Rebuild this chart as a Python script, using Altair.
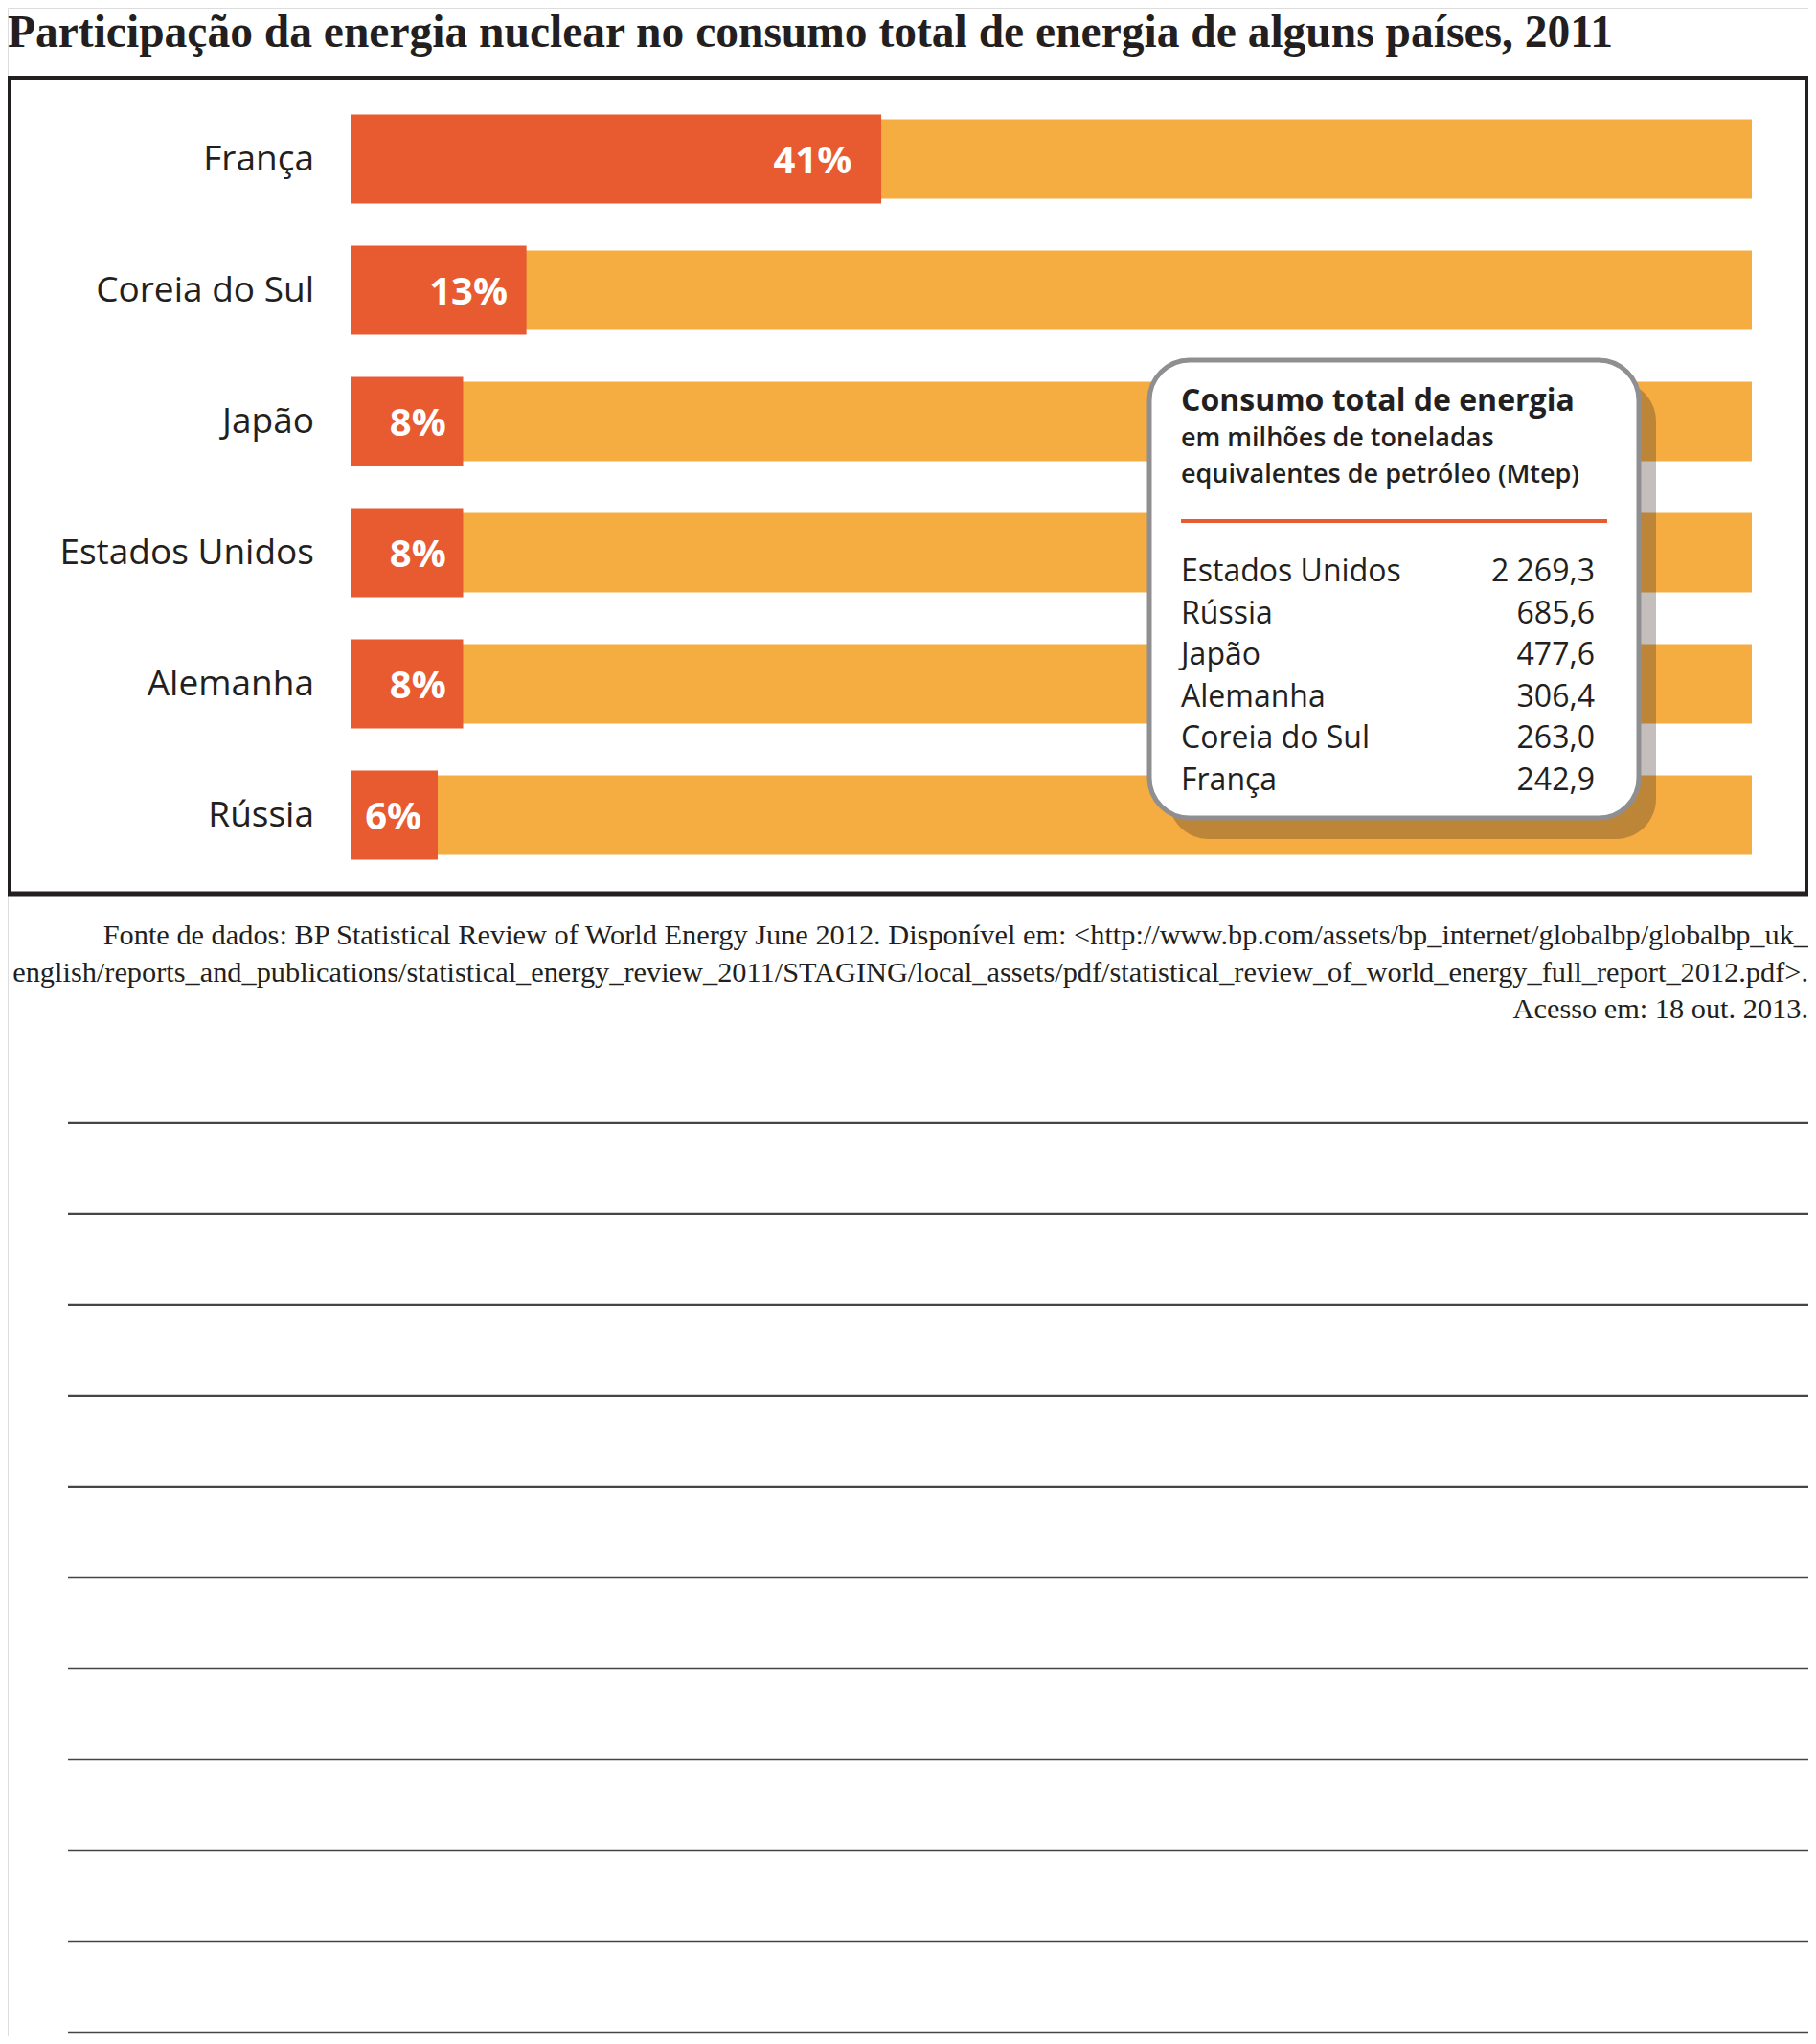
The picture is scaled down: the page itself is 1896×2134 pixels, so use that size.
import altair as alt
import pandas as pd

# ---------------- data ----------------
paises = ["França", "Coreia do Sul", "Japão", "Estados Unidos", "Alemanha", "Rússia"]
participacao = [41, 13, 8, 8, 8, 6]

tabela_paises = ["Estados Unidos", "Rússia", "Japão", "Alemanha", "Coreia do Sul", "França"]
tabela_mtep = [2269.3, 685.6, 477.6, 306.4, 263.0, 242.9]

titulo = "Participação da energia nuclear no consumo total de energia de alguns países, 2011"
quadro_titulo = "Consumo total de energia"
quadro_sub = ["em milhões de toneladas", "equivalentes de petróleo (Mtep)"]
fonte_linhas = [
    "Fonte de dados: BP Statistical Review of World Energy June 2012. Disponível em: <http://www.bp.com/assets/bp_internet/globalbp/globalbp_uk_",
    "english/reports_and_publications/statistical_energy_review_2011/STAGING/local_assets/pdf/statistical_review_of_world_energy_full_report_2012.pdf>.",
    "Acesso em: 18 out. 2013.",
]
linhas_escrita = list(range(11))

# ---------------- style ----------------
SANS = "Open Sans"
SERIF = "Liberation Serif"
PRETO = "#231f20"
VERMELHO = "#e85a2f"
LARANJA = "#f5ad42"
CINZA_BORDA = "#8f8f91"
DMIN, DMAX = -0.88, 109.7   # the drawn boxes carry a small fixed padding at their start
W, H = 1880, 2118


def fmt_br(v):
    return f"{v:,.1f}".replace(",", " ").replace(".", ",")


df = pd.DataFrame({
    "pais": paises,
    "pct": participacao,
    "rotulo": [f"{v}%" for v in participacao],
})
df["inicio"] = DMIN
df["fim"] = DMAX
df["pos"] = df["pct"] * 0.97 - 1.1

df_tab = pd.DataFrame({"pais_tab": tabela_paises, "valor": [fmt_br(v) for v in tabela_mtep]})
df_fonte = pd.DataFrame({"linha": list(range(len(fonte_linhas))), "texto": fonte_linhas})
df_linhas = pd.DataFrame({"k": linhas_escrita})
um = pd.DataFrame({"k": [0]})

xs = alt.Scale(domain=[DMIN, DMAX], range=[358, 1821])
ys = alt.Scale(domain=paises, range=[89.5, 911.5], paddingInner=0, paddingOuter=0)

X0 = alt.X("inicio:Q", scale=xs, axis=None)
Yp = alt.Y("pais:N", scale=ys, axis=None)

titulo_l = alt.Chart(um).mark_text(
    align="left", baseline="alphabetic", font=SERIF, fontSize=47.5, fontWeight="bold", color=PRETO
).encode(x=alt.value(0), y=alt.value(41), text=alt.value(titulo))

moldura = alt.Chart(um).mark_rect(
    fill="white", fillOpacity=0, stroke=PRETO, strokeWidth=5
).encode(x=alt.value(1), x2=alt.value(1879), y=alt.value(73.5), y2=alt.value(925))

fundo = alt.Chart(df).mark_bar(color=LARANJA, size=83).encode(x=X0, x2="fim:Q", y=Yp)
nuclear = alt.Chart(df).mark_bar(color=VERMELHO, size=93).encode(x=X0, x2="pct:Q", y=Yp)

nomes = alt.Chart(df).mark_text(
    align="right", baseline="middle", dx=-38, dy=1, font=SANS, fontSize=37, color=PRETO
).encode(x=X0, y=Yp, text="pais:N")

pcts = alt.Chart(df).mark_text(
    align="right", baseline="middle", dy=3, font=SANS, fontSize=40, fontWeight="bold", color="white"
).encode(x=alt.X("pos:Q", scale=xs, axis=None), y=Yp, text="rotulo:N")

sombra = alt.Chart(um).mark_rect(cornerRadius=42, fill="#3a2a20", opacity=0.3).encode(
    x=alt.value(1212), x2=alt.value(1721), y=alt.value(390), y2=alt.value(868)
)
quadro = alt.Chart(um).mark_rect(cornerRadius=42, fill="white", stroke=CINZA_BORDA, strokeWidth=5).encode(
    x=alt.value(1192), x2=alt.value(1703), y=alt.value(368), y2=alt.value(846)
)
q_tit = alt.Chart(um).mark_text(
    align="left", baseline="middle", font=SANS, fontSize=32, fontWeight="bold", color=PRETO
).encode(x=alt.value(1225), y=alt.value(411), text=alt.value(quadro_titulo))
q_sub1 = alt.Chart(um).mark_text(
    align="left", baseline="middle", font=SANS, fontSize=27, fontWeight=600, color=PRETO
).encode(x=alt.value(1225), y=alt.value(450), text=alt.value(quadro_sub[0]))
q_sub2 = alt.Chart(um).mark_text(
    align="left", baseline="middle", font=SANS, fontSize=27, fontWeight=600, color=PRETO
).encode(x=alt.value(1225), y=alt.value(488), text=alt.value(quadro_sub[1]))
q_linha = alt.Chart(um).mark_rule(color=VERMELHO, strokeWidth=4).encode(
    x=alt.value(1225), x2=alt.value(1670), y=alt.value(536)
)

yt = alt.Y("pais_tab:N", scale=alt.Scale(type="point", domain=tabela_paises, range=[589, 807], padding=0), axis=None)
t_nomes = alt.Chart(df_tab).mark_text(
    align="left", baseline="middle", font=SANS, fontSize=32, color=PRETO
).encode(x=alt.value(1225), y=yt, text="pais_tab:N")
t_vals = alt.Chart(df_tab).mark_text(
    align="right", baseline="middle", font=SANS, fontSize=32, color=PRETO
).encode(x=alt.value(1657), y=yt, text="valor:N")

fonte = alt.Chart(df_fonte).mark_text(
    align="right", baseline="middle", font=SERIF, fontSize=30.35, color=PRETO
).encode(
    x=alt.value(1880),
    y=alt.Y("linha:O", scale=alt.Scale(type="point", domain=[0, 1, 2], range=[969, 1046], padding=0), axis=None),
    text="texto:N",
)

regras = alt.Chart(df_linhas).mark_rule(color="#454545", strokeWidth=2.5).encode(
    x=alt.value(63), x2=alt.value(1880),
    y=alt.Y("k:Q", scale=alt.Scale(domain=[0, 10], range=[1164, 2114]), axis=None),
)

chart = alt.layer(
    titulo_l, moldura, fundo, nuclear, nomes, pcts,
    sombra, quadro, q_tit, q_sub1, q_sub2, q_linha, t_nomes, t_vals,
    fonte, regras,
).resolve_scale(y="independent").properties(
    width=W, height=H, autosize=alt.AutoSizeParams(type="none"), padding=0
).configure_view(strokeOpacity=0, strokeWidth=0).configure(background="white")

chart.save("out.html", embed_options={"renderer": "svg", "actions": False})
